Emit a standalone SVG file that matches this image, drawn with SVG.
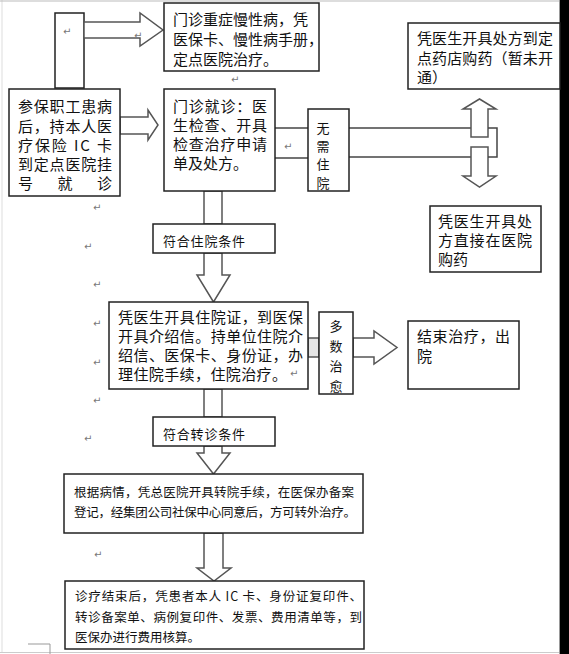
<svg xmlns="http://www.w3.org/2000/svg" width="569" height="654" viewBox="0 0 569 654">
<style>
.box{fill:#fff;stroke:#222;stroke-width:1.5}
.arr{fill:#fff;stroke:#555;stroke-width:1.5;stroke-linejoin:miter}
.ln{fill:none;stroke:#444;stroke-width:1.5}
text{font-family:"Noto Sans CJK SC","Noto Sans",sans-serif;fill:#111;dominant-baseline:central}
.t15{font-size:15px}
.t13{font-size:13px}
.t12{font-size:12.5px}
.mk{font-family:"DejaVu Sans",sans-serif;font-size:10px;fill:#777}
</style>
<rect x="0" y="0" width="569" height="654" fill="#fff"/>
<line x1="2" y1="0" x2="2" y2="652" stroke="#ddd" stroke-width="1"/>
<line x1="0" y1="1" x2="559" y2="1" stroke="#bbb" stroke-width="1"/>
<line x1="0" y1="652.5" x2="560" y2="652.5" stroke="#ccc" stroke-width="1"/>
<line x1="559.5" y1="0" x2="559.5" y2="654" stroke="#999" stroke-width="1"/>
<rect x="560" y="0" width="9" height="654" fill="#000"/>
<path d="M28 644 H50 V654" fill="none" stroke="#999" stroke-width="1"/>

<g id="connectors">
<rect x="55" y="13" width="29" height="75" class="arr" style="stroke:#222"/>
<polygon class="arr" points="84,22 140,22 140,13 163,30 140,46 140,38 84,38"/>
<polygon class="arr" points="120,117 148,117 148,110 158,125 148,140 148,134 120,134"/>
<line class="ln" x1="275" y1="128" x2="308" y2="128"/>
<line class="ln" x1="275" y1="158" x2="308" y2="158"/>
<line class="ln" x1="349" y1="128" x2="471" y2="128"/>
<line class="ln" x1="349" y1="157" x2="471" y2="157"/>
<polygon class="arr" points="471,137 471,109 463,109 479.5,99 496,109 488,109 488,137"/>
<polygon class="arr" points="471,147 488,147 488,176 496,176 479.5,187 463,176 471,176"/>
<polyline class="ln" points="488,128 497,128 497,157 488,157"/>
<rect x="204" y="191" width="18" height="33" class="arr"/>
<polygon class="arr" points="204,253 204,275 197,275 213.5,302 230,275 222,275 222,253"/>
<rect x="204" y="389" width="18" height="28" class="arr"/>
<polygon class="arr" points="204,446 204,453 197,453 213.5,474 230,453 222,453 222,446"/>
<polygon class="arr" points="204,533 204,568 197,568 214,581 231,568 223,568 223,533"/>
<rect x="308" y="338" width="11" height="19" fill="#e4e4e4" stroke="#555" stroke-width="1.5"/>
<polygon class="arr" points="353,338 374,338 374,331 397,347.5 374,364 374,357 353,357"/>
</g>

<g id="n_start">
<rect class="box" x="9" y="89" width="111" height="107"/>
<text class="t15" x="18" y="105" textLength="94" lengthAdjust="spacing">参保职工患病</text>
<text class="t15" x="18" y="125" textLength="94" lengthAdjust="spacing">后，持本人医</text>
<text class="t15" x="18" y="144" textLength="94" lengthAdjust="spacing">疗保险 IC 卡</text>
<text class="t15" x="18" y="163" textLength="94" lengthAdjust="spacing">到定点医院挂</text>
<text class="t15" x="18" y="182" textLength="94" lengthAdjust="spacing">号  就  诊</text>
</g>

<g id="n_chronic">
<rect class="box" x="164" y="3" width="155" height="68"/>
<text class="t15" x="173" y="18">门诊重症慢性病，凭</text>
<text class="t15" x="173" y="38">医保卡、慢性病手册，</text>
<text class="t15" x="173" y="58">定点医院治疗。</text>
</g>

<g id="n_outpatient">
<rect class="box" x="164" y="89" width="111" height="102"/>
<text class="t15" x="173" y="105" textLength="94" lengthAdjust="spacing">门诊就诊：医</text>
<text class="t15" x="173" y="124" textLength="94" lengthAdjust="spacing">生检查、开具</text>
<text class="t15" x="173" y="143" textLength="94" lengthAdjust="spacing">检查治疗申请</text>
<text class="t15" x="173" y="162">单及处方。</text>
</g>

<g id="n_nohosp">
<rect class="box" x="308" y="109" width="41" height="82"/>
<text class="t13" x="323" y="127" text-anchor="middle">无</text>
<text class="t13" x="323" y="145" text-anchor="middle">需</text>
<text class="t13" x="323" y="163" text-anchor="middle">住</text>
<text class="t13" x="323" y="182" text-anchor="middle">院</text>
</g>

<g id="n_pharmacy">
<rect class="box" x="408" y="23" width="152" height="66"/>
<text class="t15" x="417" y="37" textLength="136" lengthAdjust="spacing">凭医生开具处方到定</text>
<text class="t15" x="417" y="57" textLength="136" lengthAdjust="spacing">点药店购药（暂未开</text>
<text class="t15" x="417" y="76">通）</text>
</g>

<g id="n_hospdrug">
<rect class="box" x="430" y="206" width="111" height="66"/>
<text class="t15" x="438" y="220" textLength="94" lengthAdjust="spacing">凭医生开具处</text>
<text class="t15" x="438" y="239" textLength="94" lengthAdjust="spacing">方直接在医院</text>
<text class="t15" x="438" y="258.5">购药</text>
</g>

<g id="n_cond1">
<rect class="box" x="153" y="224" width="122" height="29"/>
<text class="t13" x="163" y="240" textLength="82" lengthAdjust="spacing">符合住院条件</text>
</g>

<g id="n_hosp">
<rect class="box" x="109" y="302" width="199" height="87"/>
<text class="t15" x="118" y="316" textLength="185" lengthAdjust="spacing">凭医生开具住院证，到医保</text>
<text class="t15" x="118" y="335" textLength="185" lengthAdjust="spacing">开具介绍信。持单位住院介</text>
<text class="t15" x="118" y="354" textLength="185" lengthAdjust="spacing">绍信、医保卡、身份证，办</text>
<text class="t15" x="118" y="373.5" textLength="169" lengthAdjust="spacing">理住院手续，住院治疗。</text>
<text class="mk" x="290" y="373.5">↵</text>
</g>

<g id="n_cured">
<rect class="box" x="319" y="312" width="34" height="82"/>
<text class="t13" x="336" y="325" text-anchor="middle">多</text>
<text class="t13" x="336" y="345" text-anchor="middle">数</text>
<text class="t13" x="336" y="365" text-anchor="middle">治</text>
<text class="t13" x="336" y="385" text-anchor="middle">愈</text>
</g>

<g id="n_end">
<rect class="box" x="408" y="321" width="111" height="68"/>
<text class="t15" x="417" y="335" textLength="93" lengthAdjust="spacing">结束治疗，出</text>
<text class="t15" x="417" y="355">院</text>
</g>

<g id="n_cond2">
<rect class="box" x="153" y="417" width="122" height="29"/>
<text class="t13" x="163" y="433" textLength="82" lengthAdjust="spacing">符合转诊条件</text>
</g>

<g id="n_transfer">
<rect class="box" x="64" y="474" width="299" height="59"/>
<text class="t12" x="74" y="491" textLength="280" lengthAdjust="spacing">根据病情，凭总医院开具转院手续，在医保办备案</text>
<text class="t12" x="74" y="511" textLength="282" lengthAdjust="spacing">登记，经集团公司社保中心同意后，方可转外治疗。</text>
</g>

<g id="n_settle">
<rect class="box" x="65" y="581" width="299" height="68"/>
<text class="t12" x="75" y="595" textLength="287" lengthAdjust="spacing">诊疗结束后，凭患者本人 IC 卡、身份证复印件、</text>
<text class="t12" x="75" y="616" textLength="287" lengthAdjust="spacing">转诊备案单、病例复印件、发票、费用清单等，到</text>
<text class="t12" x="75" y="636">医保办进行费用核算。</text>
</g>

<g id="marks">
<text class="mk" x="63" y="31">↵</text>
<text class="mk" x="134" y="35">↵</text>
<text class="mk" x="231" y="79">↵</text>
<text class="mk" x="284" y="146">↵</text>
<text class="mk" x="93" y="207">↵</text>
<text class="mk" x="84" y="246">↵</text>
<text class="mk" x="93" y="284">↵</text>
<text class="mk" x="93" y="323">↵</text>
<text class="mk" x="93" y="362">↵</text>
<text class="mk" x="93" y="400">↵</text>
<text class="mk" x="84" y="438">↵</text>
<text class="mk" x="94" y="554">↵</text>
</g>
</svg>
